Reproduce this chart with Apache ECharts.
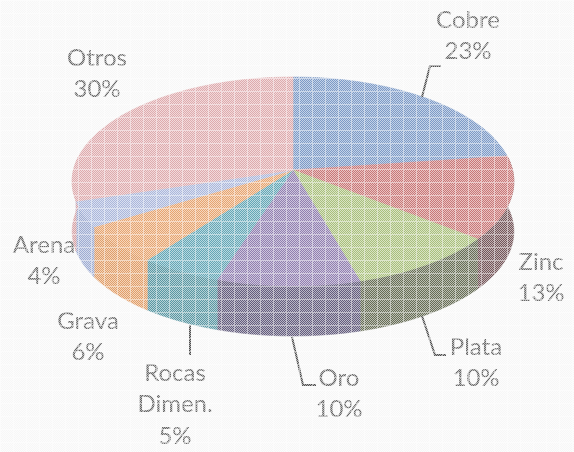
<!DOCTYPE html>
<html><head><meta charset="utf-8">
<style>html,body{margin:0;padding:0;background:#f6f6f6}#c{width:574px;height:452px;filter:blur(0.4px)}</style>
<script src="https://cdn.jsdelivr.net/npm/echarts@6/dist/echarts.min.js"></script>
</head><body><div id="c"></div>
<script>
// Data (slice sizes estimated; labels show them rounded)
const names = ['Cobre','Zinc','Plata','Oro','Rocas\nDimen.','Grava','Arena','Otros'];
const values = [23,13,10,9.5,5.4,6,4,30];
// Styles
const topColors  = ['#678abe','#c06161','#9bb667','#7f6ba3','#4b99aa','#e39658','#9dacd5','#d99da0'];
const sideColors = ['#5a7aa8','#5e3a3e','#4e563a','#4a4268','#3f8694','#dd8f50','#8f9fcb','#d09498'];
// Label centres (first line) and leader paths, indexed like names
const labelPos = [[468,20],[541,262],[476,347],[339,378],[175,373],[88,321],[44,245],[97,58]];
const leaders  = [[[422,97],[430,66],[441,66]],null,[[422,316],[435,355],[446,355]],[[292,337],[303,385],[316,385]],[[190,325],[190,355]],null,null,null];

// Projection of the tilted disc
const cx=293, cy=170, rx=219.5, ry=103.2, k=0.11, depth=50;
const total = values.reduce((a,b)=>a+b,0);
const cum=[0]; values.forEach((v,i)=>cum.push(cum[i]+v));
const ang = p => p/total*2*Math.PI;
function pt(a,dy){const u=Math.sin(a),w=-Math.cos(a),s=1/(1-k*w);return [cx+rx*u*s, cy+ry*w*s+dy];}
function arc(a0,a1,dy){const n=Math.max(2,Math.ceil((a1-a0)/0.02)),r=[];for(let i=0;i<=n;i++)r.push(pt(a0+(a1-a0)*i/n,dy));return r;}

function renderTop(p){
  const i=p.dataIndex;
  return {type:'polygon',shape:{points:[[cx,cy]].concat(arc(ang(cum[i]),ang(cum[i+1]),0))},
    style:{fill:topColors[i],stroke:topColors[i],lineWidth:0.6}};
}
function renderSide(p){
  const i=p.dataIndex;
  const a0=Math.max(ang(cum[i]),Math.PI*0.46), a1=Math.min(ang(cum[i+1]),Math.PI*1.54);
  if(a1<=a0) return {type:'group',children:[]};
  return {type:'polygon',shape:{points:arc(a0,a1,0).concat(arc(a0,a1,depth).reverse())},
    style:{fill:sideColors[i],stroke:sideColors[i],lineWidth:0.6}};
}

// Halftone screen lying over the whole picture
const tile=document.createElement('canvas');const T=13;tile.width=tile.height=T;
const g=tile.getContext('2d');
for(let y=0;y<T;y++)for(let x=0;x<T;x++){
  let al=(x===0||y===0)?0.66:(((x+y)%2===0)?0.62:0.14);
  g.fillStyle='rgba(255,255,255,'+al+')';g.fillRect(x,y,1,1);
}

const graphics=[];
names.forEach((n,i)=>{
  const lines=(n+'\n'+Math.round(values[i])+'%').split('\n');
  lines.forEach((t,j)=>{
    graphics.push({type:'text',z:50,silent:true,x:labelPos[i][0],y:labelPos[i][1]+j*31.7,
      style:{text:t,fill:'#4c4c4c',font:'24px Lato, "Open Sans", sans-serif',align:'center',verticalAlign:'middle'}});
  });
  if(leaders[i]) graphics.push({type:'polyline',z:50,silent:true,shape:{points:leaders[i]},
    style:{stroke:'#303030',lineWidth:2,fill:null}});
});
graphics.push({type:'rect',z:100,silent:true,shape:{x:0,y:0,width:574,height:452},
  style:{fill:{image:tile,repeat:'repeat'}}});

const chart=echarts.init(document.getElementById('c'),null,{renderer:'canvas'});
chart.setOption({
  animation:false,
  backgroundColor:'#f6f6f6',
  graphic:{elements:graphics},
  series:[
    {type:'custom',coordinateSystem:'none',silent:true,z:2,renderItem:renderSide,data:names},
    {type:'custom',coordinateSystem:'none',silent:true,z:3,renderItem:renderTop,data:names}
  ]
});
</script></body></html>
